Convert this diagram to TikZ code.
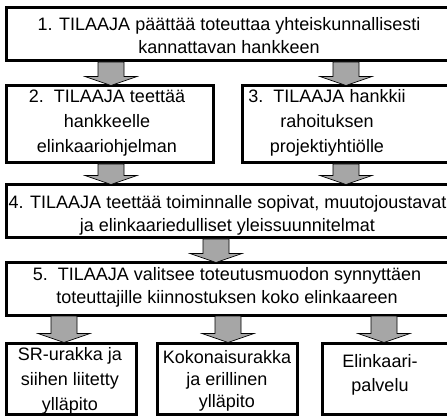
\documentclass[tikz,border=0pt]{standalone}
\usepackage{fontspec}
\setmainfont{Liberation Sans}
\usetikzlibrary{calc}
\definecolor{arrowgray}{HTML}{A6A6A6}
\tikzset{
  box/.style={draw=black, line width=3pt, inner sep=0pt, rectangle},
  txt/.style={align=center, inner sep=0pt, font=\fontsize{18}{23}\selectfont},
  blockarr/.style={fill=arrowgray, draw=black, line width=0.7pt, line join=miter}
}
\newcommand\blockarrow[3]{%
  \path[blockarr] let \p1=(#2.south), \p2=(#3.north) in
  ({#1pt-13pt},{\y1+0.5pt}) -- ({#1pt+13pt},{\y1+0.5pt}) -- ({#1pt+13pt},{\y2+8pt})
  -- ({#1pt+26pt},{\y2+8pt}) -- ({#1pt},{\y2-1pt}) -- ({#1pt-26pt},{\y2+8pt})
  -- ({#1pt-13pt},{\y2+8pt}) -- cycle;}
\begin{document}
\begin{tikzpicture}[x=1pt,y=1pt]
\useasboundingbox (0,0) rectangle (447,418);
\clip (0,0) rectangle (447,418);
% boxes
\node[box, minimum width=449pt, minimum height=53pt] (b1) at (230.5,383.5) {};
\node[box, minimum width=207pt, minimum height=77pt] (b2) at (109.5,293.5) {};
\node[box, minimum width=213pt, minimum height=77pt] (b3) at (348.5,293.5) {};
\node[box, minimum width=449pt, minimum height=53pt] (b4) at (230.5,206.5) {};
\node[box, minimum width=449pt, minimum height=52pt] (b5) at (230.5,129) {};
\node[box, minimum width=130pt, minimum height=71pt] (ba) at (71,39.5) {};
\node[box, minimum width=140pt, minimum height=71pt] (bb) at (227,39.5) {};
\node[box, minimum width=133pt, minimum height=71pt] (bc) at (388.5,39.5) {};
% texts
\node[txt] (t1) at (229,382) {1. TILAAJA päättää toteuttaa yhteiskunnallisesti\\kannattavan hankkeen};
\node[txt, font=\fontsize{18}{25}\selectfont] (t2) at (107,295) {2.\ \ TILAAJA teettää\\hankkeelle\\elinkaariohjelman};
\node[txt, font=\fontsize{18}{25}\selectfont] (t3) at (327,295) {3.\ \ TILAAJA hankkii\\rahoituksen\\projektiyhtiölle};
\node[txt] (t4) at (227.5,203) {4. TILAAJA teettää toiminnalle sopivat, muutojoustavat\\ja elinkaariedulliset yleissuunnitelmat};
\node[txt] (t5) at (227,131) {5.\ \ TILAAJA valitsee toteutusmuodon synnyttäen\\toteuttajille kiinnostuksen koko elinkaareen};
\node[txt, font=\fontsize{18}{25}\selectfont] (ta) at (70,37) {SR-urakka ja\\siihen liitetty\\ylläpito};
\node[txt, font=\fontsize{18}{22}\selectfont] (tb) at (227,37) {Kokonaisurakka\\ja erillinen\\ylläpito};
\node[txt, font=\fontsize{18}{24}\selectfont] (tc) at (380,43) {Elinkaari-\\palvelu};
% arrows
\blockarrow{111}{b1}{b2}
\blockarrow{346}{b1}{b3}
\blockarrow{111}{b2}{b4}
\blockarrow{346}{b3}{b4}
\blockarrow{216}{b4}{b5}
\blockarrow{64}{b5}{ba}
\blockarrow{228}{b5}{bb}
\blockarrow{384}{b5}{bc}
\end{tikzpicture}
\end{document}
